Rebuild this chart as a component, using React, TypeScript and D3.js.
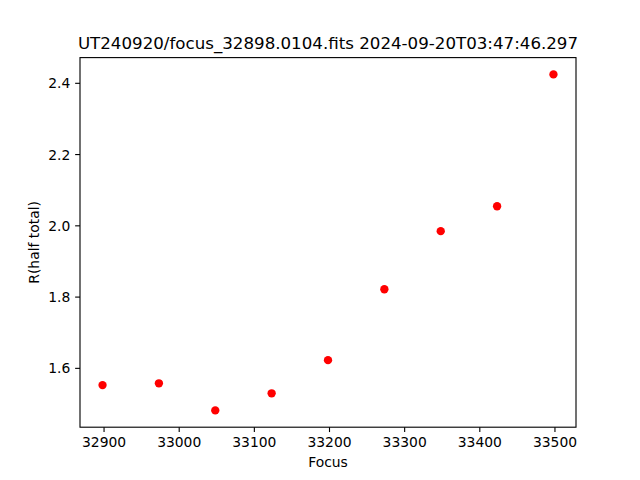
import * as d3 from 'd3';

const focusValues = [32898, 32973, 33048, 33123, 33198, 33273, 33348, 33423, 33498];
const radiusValues = [1.553, 1.558, 1.482, 1.530, 1.623, 1.822, 1.985, 2.055, 2.425];
const xTickValues = [32900, 33000, 33100, 33200, 33300, 33400, 33500];
const yTickValues = [1.6, 1.8, 2.0, 2.2, 2.4];
const chartTitle = 'UT240920/focus_32898.0104.fits 2024-09-20T03:47:46.297';

const width = 640;
const height = 480;
const left = 80;
const right = 576;
const top = 57.6;
const bottom = 427.2;
const font = 'DejaVu Sans, sans-serif';
const pt = 100 / 72; // matplotlib points at 100 dpi

// matplotlib-style 5% margins around data
function padded(vals: number[]): [number, number] {
  const [lo, hi] = d3.extent(vals) as [number, number];
  const m = (hi - lo) * 0.05;
  return [lo - m, hi + m];
}

export default function App() {
  const x = d3.scaleLinear().domain(padded(focusValues)).range([left, right]);
  const y = d3.scaleLinear().domain(padded(radiusValues)).range([bottom, top]);
  const tickLen = 3.5 * pt;
  const labelSize = 10 * pt;

  return (
    <svg
      width={width}
      height={height}
      style={{ position: 'fixed', left: 0, top: 0, background: '#fff' }}
      fontFamily={font}
    >
      <rect x={0} y={0} width={width} height={height} fill="#fff" />

      {focusValues.map((f, i) => (
        <circle key={i} cx={x(f)} cy={y(radiusValues[i])} r={3 * pt} fill="#ff0000" />
      ))}

      <rect
        x={left}
        y={top}
        width={right - left}
        height={bottom - top}
        fill="none"
        stroke="#000"
        strokeWidth={0.8 * pt}
      />

      {xTickValues.map((t) => (
        <g key={t} transform={`translate(${x(t)},${bottom})`}>
          <line y2={tickLen} stroke="#000" strokeWidth={0.8 * pt} />
          <text y={tickLen * 2} dy="0.76em" textAnchor="middle" fontSize={labelSize} fill="#000">
            {t}
          </text>
        </g>
      ))}

      {yTickValues.map((t) => (
        <g key={t} transform={`translate(${left},${y(t)})`}>
          <line x2={-tickLen} stroke="#000" strokeWidth={0.8 * pt} />
          <text x={-tickLen * 2} dy="0.36em" textAnchor="end" fontSize={labelSize} fill="#000">
            {d3.format('.1f')(t)}
          </text>
        </g>
      ))}

      <text x={(left + right) / 2} y={467} textAnchor="middle" fontSize={labelSize} fill="#000">
        Focus
      </text>
      <text
        transform={`translate(39,${(top + bottom) / 2}) rotate(-90)`}
        textAnchor="middle"
        fontSize={labelSize}
        fill="#000"
      >
        R(half total)
      </text>
      <text x={(left + right) / 2} y={top - 6 * pt} textAnchor="middle" fontSize={12 * pt} fill="#000">
        {chartTitle}
      </text>
    </svg>
  );
}
